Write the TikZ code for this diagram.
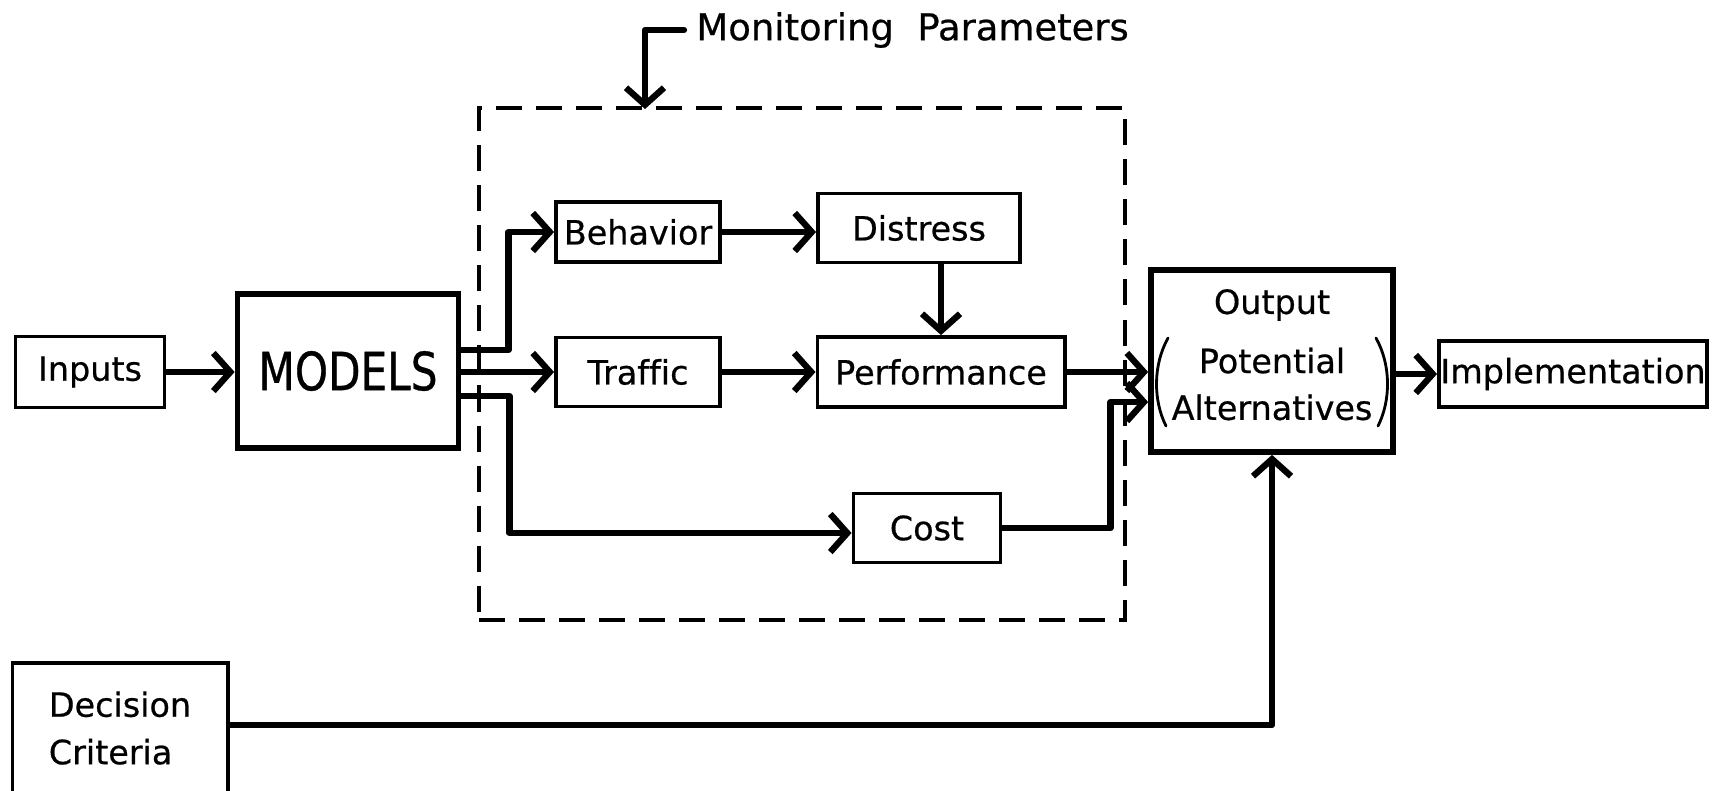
\documentclass[tikz,border=0pt]{standalone}
\usepackage{fontspec}
\setmainfont[Ligatures=NoCommon, FakeBold=0.6]{DejaVu Sans}
\usetikzlibrary{arrows.meta}

\begin{document}
\begin{tikzpicture}[x=0.01cm, y=-0.01cm,
		every node/.style={font=\fontsize{9.5}{13.5}\selectfont},
		box/.style={draw, line width=1.1pt, inner sep=0pt, align=center},
		bigbox/.style={box, line width=1.6pt},
		link/.style={line width=1.8pt, line cap=round, line join=round},
		arr/.style={link, -{Straight Barb[length=1.7mm, width=3.8mm]}}]
		\useasboundingbox (0,0) rectangle (1719,790);
		\node[draw, line width=1.2pt, dash pattern=on 0.26cm off 0.14cm, minimum width=6.46cm, minimum height=5.11cm] (monbox) at (802,364) {};
		\node[anchor=west, font=\fontsize{10.5}{13}\selectfont] (monitor) at (684,30) {Monitoring\ \ Parameters};
		\coordinate (montip) at (645,109);
		\node[box, minimum width=1.49cm, minimum height=0.71cm] (inputs) at (90,372) {Inputs};
		\node[bigbox, minimum width=2.21cm, minimum height=1.54cm, font=\fontsize{15}{18}\selectfont\addfontfeatures{FakeStretch=0.8}] (models) at (348,371) {MODELS};
		\node[box, minimum width=1.64cm, minimum height=0.6cm] (behavior) at (638,232) {Behavior};
		\node[box, minimum width=2.02cm, minimum height=0.69cm] (distress) at (919,228) {Distress};
		\node[box, minimum width=1.64cm, minimum height=0.69cm] (traffic) at (638,372) {Traffic};
		\node[box, minimum width=2.47cm, minimum height=0.7cm] (performance) at (941,372) {Performance};
		\node[box, minimum width=1.47cm, minimum height=0.69cm] (cost) at (927,528) {Cost};
		\node[bigbox, minimum width=2.42cm, minimum height=1.82cm] (output) at (1272,361) {};
		\node (outtitle) at (1272,305) {Output};
		\node[align=center, font=\fontsize{9.5}{13.3}\selectfont] (outalt) at (1272,384) {Potential\\Alternatives};
		\draw[line width=0.8pt, line cap=round] (1168,338) .. controls (1153,365) and (1153,400) .. (1166,426);
		\draw[line width=0.8pt, line cap=round] (1376,338) .. controls (1391,365) and (1391,400) .. (1378,426);
		\node[box, minimum width=2.68cm, minimum height=0.66cm] (implementation) at (1573,374) {Implementation};
		\node[box, align=left, minimum width=2.15cm, minimum height=1.3cm] (decision) at (120,728) {Decision\\Criteria};
		\draw[arr] (monitor.west) -| (montip);
		\draw[arr] (inputs.east) -- (models.west |- inputs.east);
		\draw[arr] ([yshift=0.21cm]models.east) -- ++(47,0) |- (behavior.west);
		\draw[arr] (models.east |- traffic.west) -- (traffic.west);
		\draw[arr] ([yshift=-0.25cm]models.east) -- ++(48,0) |- ([yshift=-0.05cm]cost.west);
		\draw[arr] (behavior.east) -- (distress.west |- behavior.east);
		\draw[arr] (distress.south -| performance.north) -- (performance.north);
		\draw[arr] (traffic.east) -- (performance.west);
		\draw[arr] (performance.east) -- (output.west |- performance.east);
		\draw[arr] (cost.east) -- ++(108,0) |- ([yshift=-0.41cm]output.west);
		\draw[arr] (output.east |- implementation.west) -- (implementation.west);
		\draw[arr] ([yshift=0.03cm]decision.east) -| (output.south);
	\end{tikzpicture}
\end{document}
